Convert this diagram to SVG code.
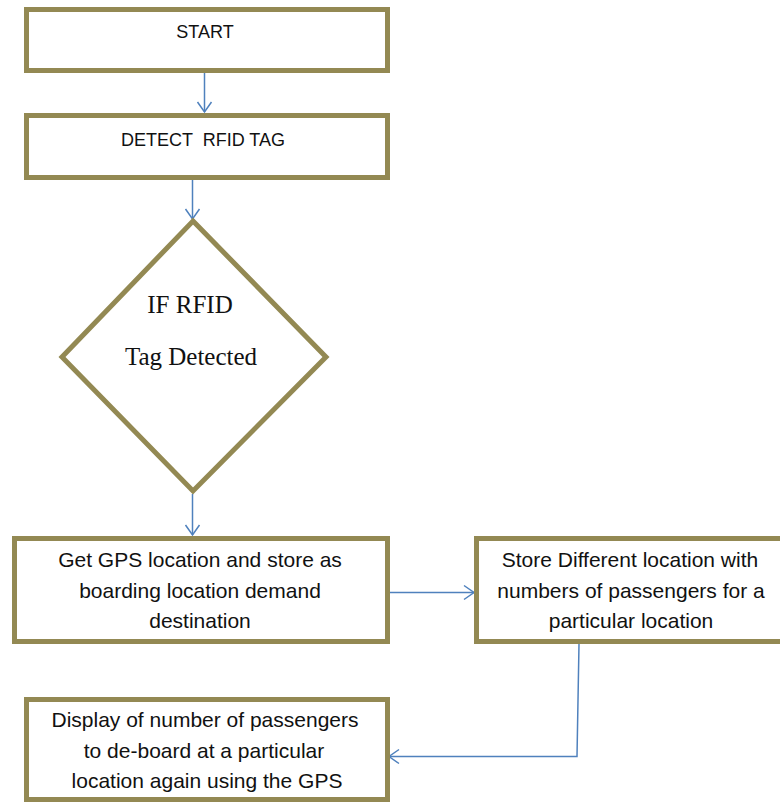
<svg xmlns="http://www.w3.org/2000/svg" width="780" height="802" viewBox="0 0 780 802">
  <style>
    .box { fill: #ffffff; stroke: #938953; stroke-width: 5; }
    .wire { fill: none; stroke: #4f81bd; stroke-width: 1.5; }
    .caps { font-family: "Liberation Sans", Arial, sans-serif; font-size: 18px; fill: #111111; text-anchor: middle; white-space: pre; }
    .cond { font-family: "Liberation Serif", "Times New Roman", serif; font-size: 25px; fill: #111111; text-anchor: middle; }
    .body { font-family: "Liberation Sans", Arial, sans-serif; font-size: 21px; fill: #111111; text-anchor: middle; }
  </style>
  <defs>
    <marker id="open-arrow" viewBox="-11 -9 13 18" refX="0" refY="0" markerWidth="13" markerHeight="18" markerUnits="userSpaceOnUse" orient="auto" overflow="visible">
      <path d="M-10,-7 L0,0 L-10,7" fill="none" stroke="#4f81bd" stroke-width="1.5"/>
    </marker>
  </defs>
  <rect width="780" height="802" fill="#ffffff"/>

  <!-- connectors -->
  <g id="connectors">
    <path class="wire" d="M204.5,73 L204.5,112" marker-end="url(#open-arrow)"/>
    <path class="wire" d="M192.5,180 L192.5,219" marker-end="url(#open-arrow)"/>
    <path class="wire" d="M192.5,494 L192.5,535" marker-end="url(#open-arrow)"/>
    <path class="wire" d="M390,592.5 L474,592.5" marker-end="url(#open-arrow)"/>
    <path class="wire" d="M579,644 L577,756.5 L389,756.5" marker-end="url(#open-arrow)"/>
  </g>

  <!-- start -->
  <g id="start">
    <rect class="box" x="26.5" y="9.5" width="361" height="61"/>
    <text class="caps" x="205" y="38">START</text>
  </g>

  <!-- detect tag -->
  <g id="detect">
    <rect class="box" x="26.5" y="115.5" width="361" height="62"/>
    <text class="caps" x="203" y="146">DETECT  RFID TAG</text>
  </g>

  <!-- decision -->
  <g id="decision">
    <polygon class="box" points="193,221 326,357 193,491 62,357"/>
    <text class="cond" x="190" y="313">IF RFID</text>
    <text class="cond" x="191" y="365">Tag Detected</text>
  </g>

  <!-- boarding location -->
  <g id="boarding">
    <rect class="box" x="14.5" y="538.5" width="373" height="103"/>
    <text class="body" x="200" y="567">Get GPS location and store as</text>
    <text class="body" x="200" y="598">boarding location demand</text>
    <text class="body" x="200" y="628">destination</text>
  </g>

  <!-- store locations -->
  <g id="store">
    <rect class="box" x="476.5" y="538.5" width="320" height="103"/>
    <text class="body" x="630" y="567">Store Different location with</text>
    <text class="body" x="631" y="598">numbers of passengers for a</text>
    <text class="body" x="631" y="628">particular location</text>
  </g>

  <!-- display -->
  <g id="display">
    <rect class="box" x="26.5" y="699.5" width="361" height="100"/>
    <text class="body" x="205" y="727">Display of number of passengers</text>
    <text class="body" x="204" y="758">to de-board at a particular</text>
    <text class="body" x="207" y="788">location again using the GPS</text>
  </g>
</svg>
